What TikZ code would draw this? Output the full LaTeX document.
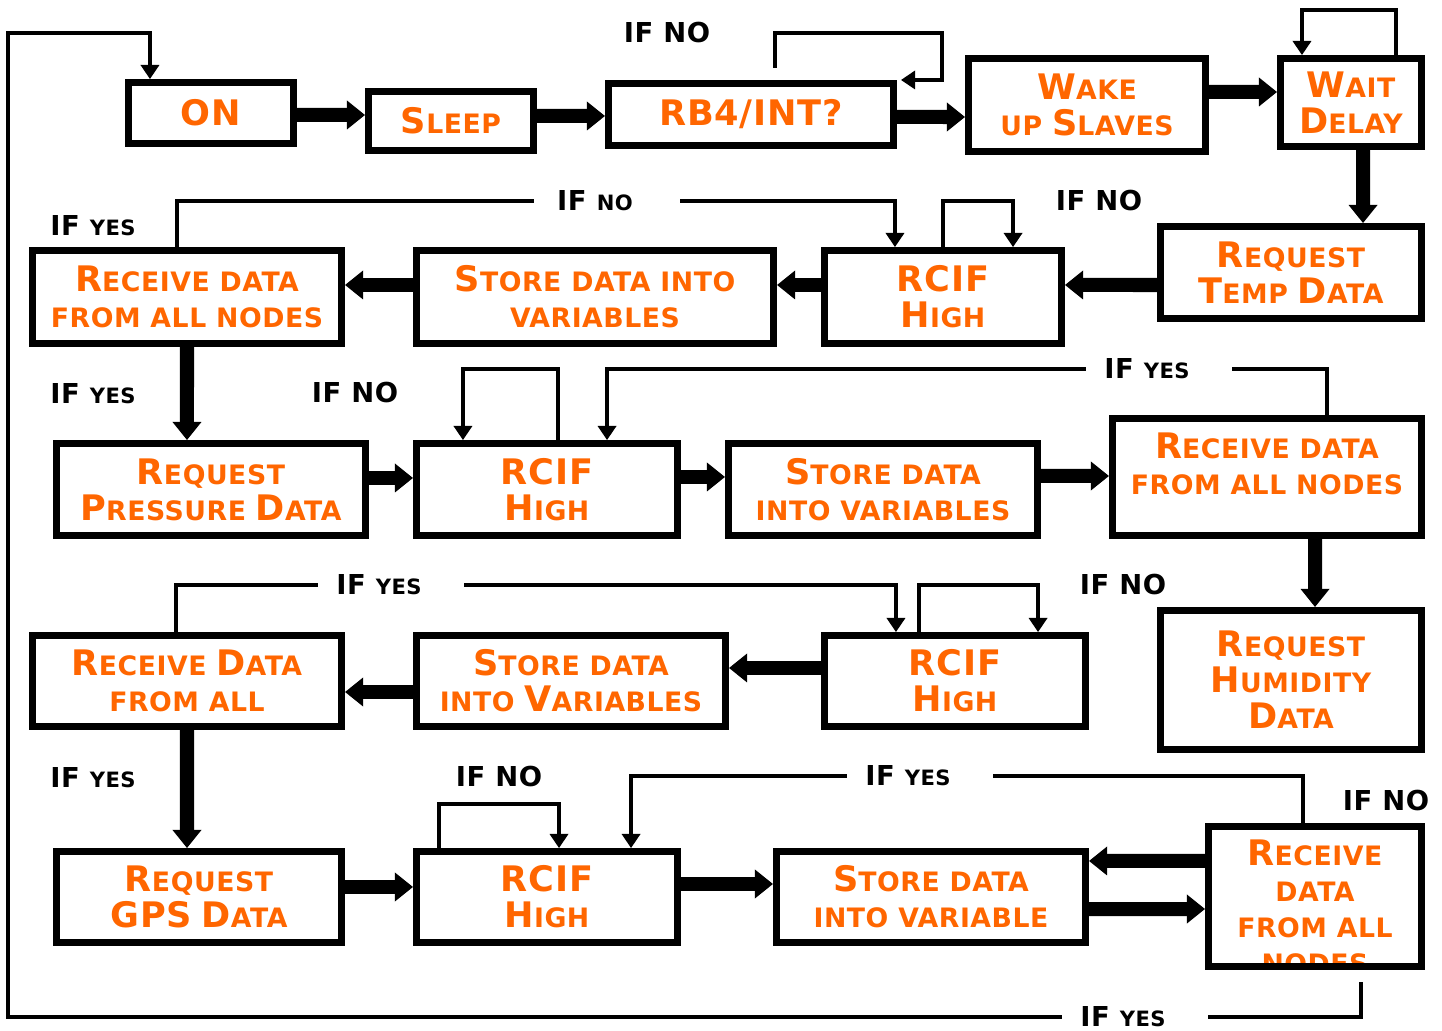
\documentclass[tikz,border=0pt]{standalone}
\usepackage{fontspec}
\usepackage{xcolor}
\usepackage{tikz}
\usetikzlibrary{arrows.meta}
\newfontfamily\cpfont{DejaVu Sans}[LetterSpace=2]
\newcommand\boxfont{\cpfont\bfseries\fontsize{7.6}{10.2}\selectfont}
\newcommand\lblfont{\cpfont\bfseries\fontsize{7.8}{9}\selectfont}
\newcommand\ini[1]{{\fontsize{10}{10.2}\selectfont #1}}
\newcommand\sml[1]{{\fontsize{6.0}{8}\selectfont #1}}
\definecolor{flowink}{HTML}{000000}
\definecolor{floworange}{HTML}{FF6600}
\tikzset{
  box/.style    ={draw=flowink,fill=white,line width=0.7mm,align=center,inner sep=0pt,text=floworange,font=\boxfont},
  boxtext/.style={align=center,inner sep=0pt,text=floworange,font=\boxfont},
  arr/.style    ={-{Triangle[length=1.8mm,width=2.9mm,line width=0pt]},line width=1.4mm,draw=flowink},
  wire/.style   ={line width=0.45mm,draw=flowink},
  larr/.style   ={wire,-{Triangle[length=1.4mm,width=1.9mm,line width=0pt]}},
  lbl/.style    ={font=\lblfont,text=flowink,inner sep=0pt},
  gap/.style    ={lbl,minimum width=14.5mm,execute at end node={\hspace{2.4mm}}},
}
\begin{document}
\begin{tikzpicture}[x=0.01cm,y=-0.01cm]
  \useasboundingbox (0,0) rectangle (1442,1031);

  % wake-up chain
  \node[box,minimum width=16.5mm,minimum height=6.1mm] (on)    at (211,113)   {\ini{ON}};
  \node[box,minimum width=16.5mm,minimum height=5.9mm] (sleep) at (451,121)   {\ini{S}LEEP};
  \node[box,minimum width=28.5mm,minimum height=6.2mm] (rb4)   at (751,114.5) {\ini{RB4/INT?}};
  \node[box,minimum width=23.7mm,minimum height=9.3mm] (wake)  at (1087,105)  {\ini{W}AKE\\UP \ini{S}LAVES};
  \node[box,minimum width=14.1mm,minimum height=8.8mm] (wait)  at (1351,102.5){\ini{W}AIT\\\ini{D}ELAY};

  % temperature
  \node[box,minimum width=26.1mm,minimum height=9.2mm] (reqtemp) at (1291,272.5) {\ini{R}EQUEST\\\ini{T}EMP \ini{D}ATA};
  \node[box,minimum width=23.7mm,minimum height=9.3mm] (rcif2)   at (943,297)    {\ini{RCIF}\\\ini{H}IGH};
  \node[box,minimum width=35.7mm,minimum height=9.3mm] (store2)  at (595,297)    {\ini{S}TORE DATA INTO\\VARIABLES};
  \node[box,minimum width=30.9mm,minimum height=9.3mm] (recv2)   at (187,297)    {\ini{R}ECEIVE DATA\\FROM ALL NODES};

  % pressure
  \node[box,minimum width=30.9mm,minimum height=9.2mm]  (reqpres) at (211,489.5)  {\ini{R}EQUEST\\\ini{P}RESSURE \ini{D}ATA};
  \node[box,minimum width=26.1mm,minimum height=9.2mm]  (rcif3)   at (547,489.5)  {\ini{RCIF}\\\ini{H}IGH};
  \node[box,minimum width=30.9mm,minimum height=9.2mm]  (store3)  at (883,489.5)  {\ini{S}TORE DATA\\INTO VARIABLES};
  \node[box,minimum width=30.9mm,minimum height=11.7mm] (recv3)   at (1267,477)   {\ini{R}ECEIVE DATA\\FROM ALL NODES\\[-1mm]\mbox{}};

  % humidity
  \node[box,minimum width=26.1mm,minimum height=13.9mm] (reqhum) at (1291,680) {\ini{R}EQUEST\\\ini{H}UMIDITY\\\ini{D}ATA};
  \node[box,minimum width=26.1mm,minimum height=9.1mm]  (rcif4)  at (955,681)  {\ini{RCIF}\\\ini{H}IGH};
  \node[box,minimum width=30.9mm,minimum height=9.1mm]  (store4) at (571,681)  {\ini{S}TORE DATA\\INTO \ini{V}ARIABLES};
  \node[box,minimum width=30.9mm,minimum height=9.1mm]  (recv4)  at (187,681)  {\ini{R}ECEIVE \ini{D}ATA\\FROM ALL};

  % gps
  \node[box,minimum width=28.5mm,minimum height=9.1mm] (reqgps) at (199,897) {\ini{R}EQUEST\\\ini{GPS} \ini{D}ATA};
  \node[box,minimum width=26.1mm,minimum height=9.1mm] (rcif5)  at (547,897) {\ini{RCIF}\\\ini{H}IGH};
  \node[box,minimum width=30.9mm,minimum height=9.1mm] (store5) at (931,897) {\ini{S}TORE DATA\\INTO VARIABLE};
  \node[box,minimum width=21.3mm,minimum height=14.0mm,
        path picture={\node[boxtext] (recv5txt) at ([yshift=-1.05mm]path picture bounding box.center)
          {\ini{R}ECEIVE\\DATA\\FROM ALL\\NODES};}] (recv5) at (1315,896.5) {};

  % labels
  \node[lbl] (ifnoa)  at (667,33)   {IF NO};
  \node[lbl] (ifyesa) at (93,226)   {IF \sml{YES}};
  \node[lbl] (ifnob)  at (1099,201) {IF NO};
  \node[gap] (ifnoc)  at (607,201)  {IF \sml{NO}};
  \node[lbl] (ifyesb) at (93,394)   {IF \sml{YES}};
  \node[lbl] (ifnod)  at (355,393)  {IF NO};
  \node[gap] (ifyesc) at (1159,369) {IF \sml{YES}};
  \node[gap] (ifyesd) at (391,585)  {IF \sml{YES}};
  \node[lbl] (ifnoe)  at (1123,585) {IF NO};
  \node[lbl] (ifyese) at (93,778)   {IF \sml{YES}};
  \node[lbl] (ifnof)  at (499,777)  {IF NO};
  \node[gap] (ifyesf) at (920,776)  {IF \sml{YES}};
  \node[lbl] (ifnog)  at (1386,801) {IF NO};
  \node[gap] (ifyesg) at (1135,1017){IF \sml{YES}};
  \coordinate (loopcorner) at (8,33);

  % main flow
  \draw[arr] ([yshift=-0.2mm]on.east)     -- ([yshift=0.6mm]sleep.west);
  \draw[arr] ([yshift=0.5mm]sleep.east)   -- ([yshift=-0.15mm]rb4.west);
  \draw[arr] ([yshift=-0.25mm]rb4.east)   -- ([yshift=-1.2mm]wake.west);
  \draw[arr] ([yshift=1.3mm]wake.east)    -- ([yshift=1.05mm]wait.west);
  \draw[arr] ([xshift=1.2mm]wait.south)   -- ([xshift=7.2mm]reqtemp.north);
  \draw[arr] ([yshift=-1.25mm]reqtemp.west) -- ([yshift=1.2mm]rcif2.east);
  \draw[arr] ([yshift=1.2mm]rcif2.west)   -- ([yshift=1.2mm]store2.east);
  \draw[arr] ([yshift=1.2mm]store2.west)  -- ([yshift=1.2mm]recv2.east);
  \draw[arr] (recv2.south)                -- ([xshift=-2.4mm]reqpres.north);
  \draw[arr] ([yshift=1.15mm]reqpres.east) -- ([yshift=1.15mm]rcif3.west);
  \draw[arr] ([yshift=1.25mm]rcif3.east)  -- ([yshift=1.25mm]store3.west);
  \draw[arr] ([yshift=1.35mm]store3.east) -- ([yshift=0.1mm]recv3.west);
  \draw[arr] ([xshift=4.8mm]recv3.south)  -- ([xshift=2.4mm]reqhum.north);
  \draw[arr] ([yshift=1.3mm]rcif4.west)   -- ([yshift=1.3mm]store4.east);
  \draw[arr] ([yshift=-1.1mm]store4.west) -- ([yshift=-1.1mm]recv4.east);
  \draw[arr] (recv4.south)                -- ([xshift=-1.2mm]reqgps.north);
  \draw[arr] ([yshift=1.0mm]reqgps.east)  -- ([yshift=1.0mm]rcif5.west);
  \draw[arr] ([yshift=1.3mm]rcif5.east)   -- ([yshift=1.3mm]store5.west);
  \draw[arr] ([yshift=3.55mm]recv5.west)  -- ([yshift=3.6mm]store5.east);
  \draw[arr] ([yshift=-1.2mm]store5.east) -- ([yshift=-1.25mm]recv5.west);

  % waiting loops
  \draw[larr] ([xshift=2.4mm,yshift=1.2mm]rb4.north) |- ([xshift=4.5mm,yshift=4.7mm]rb4.north east)
              |- ([xshift=0.4mm]rb4.north east);
  \draw[larr] ([xshift=4.5mm]wait.north) -- ++(0,-45) -| ([xshift=-4.9mm]wait.north);
  \draw[larr] (rcif2.north) -- ++(0,-46) -| ([xshift=7mm]rcif2.north);
  \draw[larr] ([xshift=1.1mm]rcif3.north) -- ++(0,-71) -| ([xshift=-8.4mm]rcif3.north);
  \draw[larr] ([xshift=-3.6mm]rcif4.north) -- ++(0,-47) -| ([xshift=8.3mm]rcif4.north);
  \draw[larr] ([xshift=-10.8mm]rcif5.north) -- ++(0,-44) -| ([xshift=1.2mm]rcif5.north);

  % feedback lines
  \draw[wire] ([xshift=-1mm]recv2.north) |- (ifnoc.west);
  \draw[larr] (ifnoc.east) -| ([xshift=-4.8mm]rcif2.north);
  \draw[wire] ([xshift=6mm]recv3.north) |- (ifyesc.east);
  \draw[larr] (ifyesc.west) -| ([xshift=6mm]rcif3.north);
  \draw[wire] ([xshift=-1.1mm]recv4.north) |- (ifyesd.west);
  \draw[larr] (ifyesd.east) -| ([xshift=-5.9mm]rcif4.north);
  \draw[wire] ([xshift=-1.2mm]recv5.north) |- (ifyesf.east);
  \draw[larr] (ifyesf.west) -| ([xshift=8.4mm]rcif5.north);
  \draw[wire] ([xshift=4.6mm,yshift=-1.2mm]recv5.south) |- (ifyesg.east);
  \draw[larr] (ifyesg.west) -| (loopcorner) -| ([xshift=-6.1mm]on.north);
\end{tikzpicture}
\end{document}
